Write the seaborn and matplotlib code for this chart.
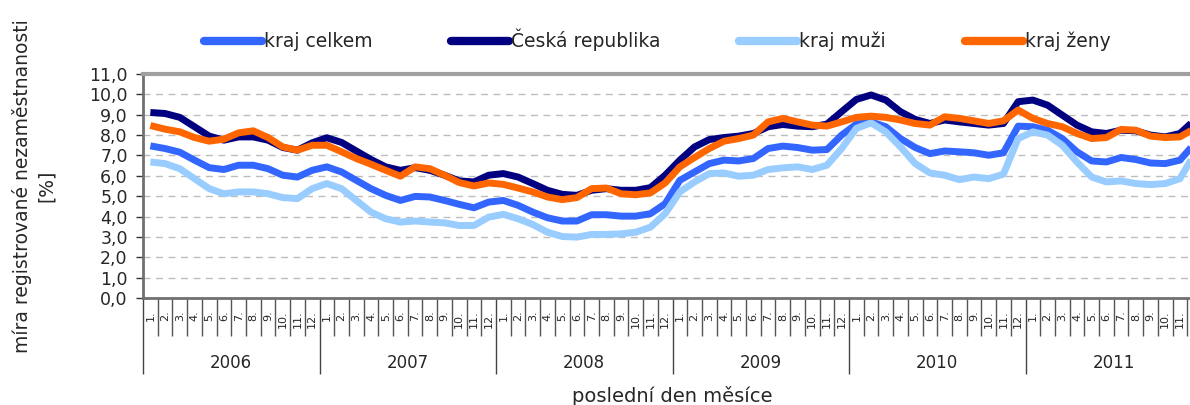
import numpy as np
import pandas as pd
import matplotlib
matplotlib.use("Agg")
import matplotlib.pyplot as plt
import seaborn as sns

years = ["2006", "2007", "2008", "2009", "2010", "2011"]
month_labels = [f"{m}." for m in range(1, 13)]
series_names = ["kraj celkem", "Česká republika", "kraj muži", "kraj ženy"]
y_tick_labels = ["0,0", "1,0", "2,0", "3,0", "4,0", "5,0", "6,0", "7,0", "8,0", "9,0", "10,0", "11,0"]

kraj_celkem = [
    7.47, 7.34, 7.16, 6.77, 6.40, 6.31, 6.52, 6.52, 6.35, 6.03, 5.94, 6.27,
    6.44, 6.19, 5.78, 5.37, 5.04, 4.79, 4.99, 4.96, 4.79, 4.60, 4.43, 4.71,
    4.79, 4.55, 4.22, 3.94, 3.78, 3.78, 4.09, 4.09, 4.02, 4.02, 4.14, 4.63,
    5.78, 6.19, 6.60, 6.77, 6.73, 6.85, 7.34, 7.46, 7.39, 7.26, 7.29, 8.00,
    8.54, 8.65, 8.41, 7.83, 7.39, 7.09, 7.22, 7.18, 7.13, 7.01, 7.13, 8.44,
    8.41, 8.24, 7.83, 7.18, 6.73, 6.68, 6.90, 6.80, 6.63, 6.60, 6.77, 7.59,
]
ceska_republika = [
    9.11, 9.06, 8.87, 8.41, 7.95, 7.75, 7.91, 7.91, 7.75, 7.39, 7.26, 7.62,
    7.87, 7.64, 7.22, 6.80, 6.44, 6.27, 6.40, 6.27, 6.03, 5.75, 5.70, 6.03,
    6.11, 5.94, 5.62, 5.29, 5.09, 5.04, 5.29, 5.37, 5.29, 5.29, 5.42, 6.03,
    6.77, 7.42, 7.78, 7.88, 7.95, 8.08, 8.41, 8.52, 8.44, 8.41, 8.54, 9.15,
    9.75, 9.97, 9.72, 9.15, 8.77, 8.57, 8.74, 8.65, 8.57, 8.49, 8.57, 9.64,
    9.72, 9.47, 8.98, 8.49, 8.16, 8.08, 8.24, 8.21, 8.00, 7.91, 8.08, 8.74,
]
kraj_muzi = [
    6.68, 6.60, 6.35, 5.86, 5.37, 5.12, 5.21, 5.21, 5.12, 4.93, 4.88, 5.37,
    5.62, 5.37, 4.79, 4.22, 3.89, 3.73, 3.78, 3.73, 3.69, 3.56, 3.56, 3.97,
    4.11, 3.89, 3.61, 3.23, 3.02, 2.99, 3.12, 3.12, 3.15, 3.23, 3.48, 4.14,
    5.21, 5.70, 6.11, 6.14, 5.98, 6.03, 6.31, 6.39, 6.44, 6.31, 6.52, 7.34,
    8.33, 8.60, 8.16, 7.42, 6.60, 6.14, 6.03, 5.81, 5.94, 5.86, 6.08, 7.83,
    8.16, 8.00, 7.50, 6.68, 5.94, 5.70, 5.75, 5.62, 5.57, 5.62, 5.86, 7.09,
]
kraj_zeny = [
    8.47, 8.29, 8.16, 7.88, 7.70, 7.80, 8.11, 8.21, 7.88, 7.42, 7.26, 7.50,
    7.50, 7.18, 6.85, 6.57, 6.27, 5.98, 6.44, 6.35, 6.03, 5.67, 5.50, 5.65,
    5.58, 5.40, 5.21, 4.96, 4.83, 4.93, 5.37, 5.40, 5.12, 5.07, 5.16, 5.65,
    6.44, 6.90, 7.34, 7.70, 7.83, 8.00, 8.65, 8.82, 8.65, 8.49, 8.44, 8.65,
    8.87, 8.93, 8.87, 8.74, 8.57, 8.49, 8.90, 8.82, 8.70, 8.57, 8.70, 9.23,
    8.82, 8.57, 8.41, 8.08, 7.83, 7.88, 8.28, 8.24, 7.95, 7.88, 7.91, 8.33,
]

colors = {
    "kraj celkem": "#3366FF",
    "Česká republika": "#000080",
    "kraj muži": "#99CCFF",
    "kraj ženy": "#FF6600",
}

n = len(kraj_celkem)
pos = np.arange(n) + 0.5
frames = []
for name, vals in zip(series_names, [kraj_celkem, ceska_republika, kraj_muzi, kraj_zeny]):
    frames.append(pd.DataFrame({"pos": pos, "val": vals, "serie": name}))
df = pd.concat(frames, ignore_index=True)

sns.set_style("white")
plt.rcParams["font.family"] = ["DejaVu Sans"]

fig = plt.figure(figsize=(11.9, 4.05), dpi=100)
W, H = 1190, 405
left, right, top, bottom = 143, 1202, 74, 298
ax = fig.add_axes([left / W, 1 - bottom / H, (right - left) / W, (bottom - top) / H])

sns.lineplot(data=df, x="pos", y="val", hue="serie", hue_order=series_names,
             palette=colors, linewidth=5, ax=ax, legend=True,
             solid_joinstyle="round", solid_capstyle="butt")

ax.set_xlim(0, n)
ax.set_ylim(0, 11)

# gridlines
ax.set_yticks(np.arange(0, 12))
ax.set_yticklabels(y_tick_labels, fontsize=12.5)
ax.yaxis.grid(True, linestyle=(0, (5, 4)), color="#bdbdbd", linewidth=1)
ax.xaxis.grid(False)
ax.set_axisbelow(True)
ax.tick_params(axis="y", direction="out", length=5, width=1, color="#333333", pad=6, left=True)

# x axis: month & year separators
ax.set_xticks(np.arange(0, n + 1, 12))
ax.set_xticks(np.arange(0, n + 1), minor=True)
ax.tick_params(axis="x", which="major", direction="out", length=55, width=1, color="#444444",
               labelbottom=False, bottom=True)
ax.tick_params(axis="x", which="minor", direction="out", length=27, width=1, color="#555555",
               labelbottom=False, bottom=True)

sec_m = ax.secondary_xaxis("bottom")
sec_m.set_xticks(pos)
sec_m.set_xticklabels(month_labels * len(years), rotation=90, fontsize=8, va="top")
sec_m.tick_params(axis="x", length=0, pad=9)
sec_m.spines["bottom"].set_visible(False)

sec_y = ax.secondary_xaxis("bottom")
sec_y.set_xticks(np.arange(len(years)) * 12 + 6)
sec_y.set_xticklabels(years, fontsize=12)
sec_y.tick_params(axis="x", length=0, pad=40)
sec_y.spines["bottom"].set_visible(False)

ax.set_xlabel("")
ax.set_ylabel("míra registrované nezaměstnanosti\n[%]", fontsize=13.5, labelpad=24, linespacing=1.3)
fig.text((143 + 1202) / 2 / W, 1 - 396 / H, "poslední den měsíce", ha="center", va="center", fontsize=14)

ax.spines["top"].set_color("#a0a0a0")
ax.spines["top"].set_linewidth(3)
ax.spines["left"].set_color("#707070")
ax.spines["left"].set_linewidth(2)
ax.spines["bottom"].set_color("#707070")
ax.spines["bottom"].set_linewidth(2)
ax.spines["right"].set_visible(False)

handles, labels = ax.get_legend_handles_labels()
ax.get_legend().remove()
leg = fig.legend(handles, labels, loc="center", bbox_to_anchor=(657 / W, 1 - 40 / H), ncol=4,
                 frameon=False, fontsize=13.5, handlelength=3.1, handletextpad=0.1,
                 columnspacing=4.2)
for h in leg.get_lines():
    h.set_linewidth(6)
    h.set_solid_capstyle("round")

fig.savefig("out.png", dpi=100)
